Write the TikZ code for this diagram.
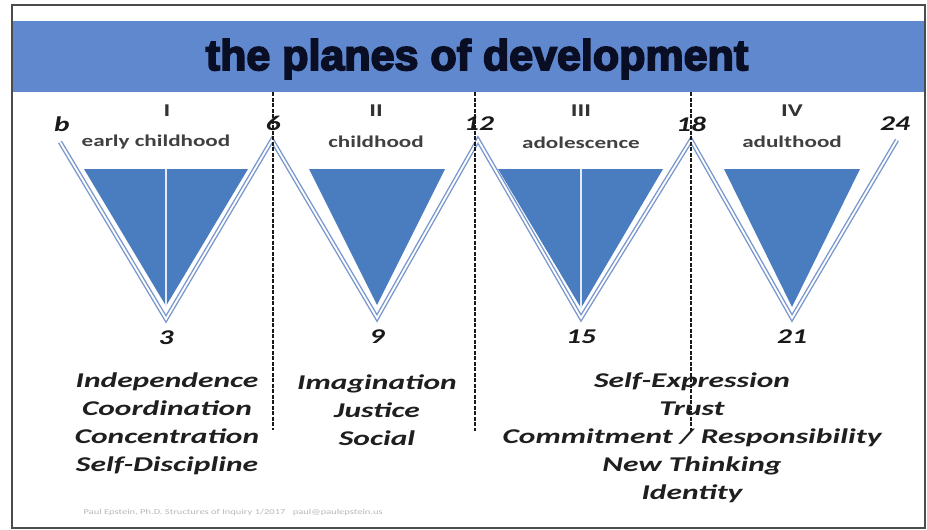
\documentclass[tikz,border=0pt]{standalone}
\usepackage{fontspec}
\setmainfont{Carlito}
\newfontfamily\widefont{Carlito}[FakeStretch=1.4]
\newfontfamily\traitfont{Carlito}[FakeStretch=1.5]
\newfontfamily\titlefont{Liberation Sans}[FakeStretch=1.0, BoldFeatures={FakeBold=4}]
\usetikzlibrary{positioning, calc}

\definecolor{bandblue}{RGB}{96,136,206}
\definecolor{wedgeblue}{RGB}{74,124,192}
\definecolor{lineblue}{RGB}{122,152,205}
\definecolor{titleink}{RGB}{10,14,36}

\begin{document}
\begin{tikzpicture}[
  x=1pt, y=-1pt,
  zigzag/.style={draw=lineblue, line width=1.4pt, double=white, double distance=1.8pt, line join=miter},
  wedge/.style={fill=wedgeblue, draw=none},
  split/.style={draw=white!80!lineblue, line width=1.8pt},
  divider/.style={draw=black!90, line width=1.7pt, dash pattern=on 4pt off 1.5pt},
  age/.style={font=\widefont\bfseries\itshape\fontsize{21}{24}\selectfont, text=black!90, inner sep=0pt},
  plane/.style={font=\widefont\bfseries\fontsize{18}{20}\selectfont, text=black!80, inner sep=0pt},
  stage/.style={font=\widefont\bfseries\fontsize{16.5}{18}\selectfont, text=black!75, inner sep=0pt},
  traits/.style={font=\traitfont\bfseries\itshape\fontsize{21}{28}\selectfont, text=black!88, align=center, inner sep=0pt}
]
\useasboundingbox (0,0) rectangle (927,530);

%------------------------------------------------
% Frame and title band
%------------------------------------------------
\fill[white] (0,0) rectangle (927,530);
\fill[bandblue] (13,21) rectangle (925,92);
\draw[black!70, line width=2.8pt] (12,5) rectangle (925,528);
\node[font=\titlefont\bfseries\fontsize{43}{46}\selectfont, text=titleink] (title) at (477,59) {the planes of development};

%------------------------------------------------
% Zigzag of ages
%------------------------------------------------
\coordinate (top0) at (60,142);
\coordinate (top6) at (272,140);
\coordinate (top12) at (478,140);
\coordinate (top18) at (691,140);
\coordinate (top24) at (897,140);
\coordinate (low3) at (166,319);
\coordinate (low9) at (377,318);
\coordinate (low15) at (581,318);
\coordinate (low21) at (792,318);

% Filled wedges
\fill[wedge] (84,169) -- (248,169) -- (166,306) -- cycle;
\fill[wedge] (309,169) -- (445,169) -- (377,305) -- cycle;
\fill[wedge] (498,169) -- (663,169) -- (581,308) -- cycle;
\fill[wedge] (724,169) -- (860,169) -- (792,307) -- cycle;
\draw[split] (166,169) -- (166,306);
\draw[split] (581,169) -- (581,308);

\draw[zigzag] (top0) -- (low3) -- (top6) -- (low9) -- (top12) -- (low15) -- (top18) -- (low21) -- (top24);

%------------------------------------------------
% Plane dividers
%------------------------------------------------
\coordinate (div1a) at (273,92);  \coordinate (div1b) at (273,430);
\coordinate (div2a) at (475,92);  \coordinate (div2b) at (475,431);
\coordinate (div3a) at (691,92);  \coordinate (div3b) at (691,432);
\draw[divider] (div1a) -- (div1b);
\draw[divider] (div2a) -- (div2b);
\draw[divider, line width=1.3pt] (div3a) -- (div3b);

%------------------------------------------------
% Age labels
%------------------------------------------------
\node[age] (age0) at (62,124) {b};
\node[age] (age6) at (273,123) {6};
\node[age] (age12) at (479,124) {12};
\node[age] (age18) at (691,124) {18};
\node[age] (age24) at (895,124) {24};
\node[age] (age3) at (166,338) {3};
\node[age] (age9) at (377,337) {9};
\node[age] (age15) at (581,337) {15};
\node[age] (age21) at (792,337) {21};

%------------------------------------------------
% Planes and stages
%------------------------------------------------
\node[plane] (plane1) at (167,111) {I};
\node[plane] (plane2) at (376,111) {II};
\node[plane] (plane3) at (581,111) {III};
\node[plane] (plane4) at (792,111) {IV};

\node[stage] (stage1) at (156,142) {early childhood};
\node[stage] (stage2) at (376,142) {childhood};
\node[stage] (stage3) at (581,143) {adolescence};
\node[stage] (stage4) at (792,142) {adulthood};

%------------------------------------------------
% Characteristics
%------------------------------------------------
\node[traits] (traits1) at (167,424) {Independence\\Coordination\\Concentration\\Self-Discipline};
\node[traits] (traits2) at (377,410) {Imagination\\Justice\\Social};
\node[traits] (traits3) at (692,438) {Self-Expression\\Trust\\Commitment / Responsibility\\New Thinking\\Identity};

% Footer
\node[font=\widefont\fontsize{7.5}{9}\selectfont, text=black!28, anchor=west] (footer) at (80,512) {Paul Epstein, Ph.D. Structures of Inquiry 1/2017\quad paul@paulepstein.us};

\end{tikzpicture}
\end{document}
